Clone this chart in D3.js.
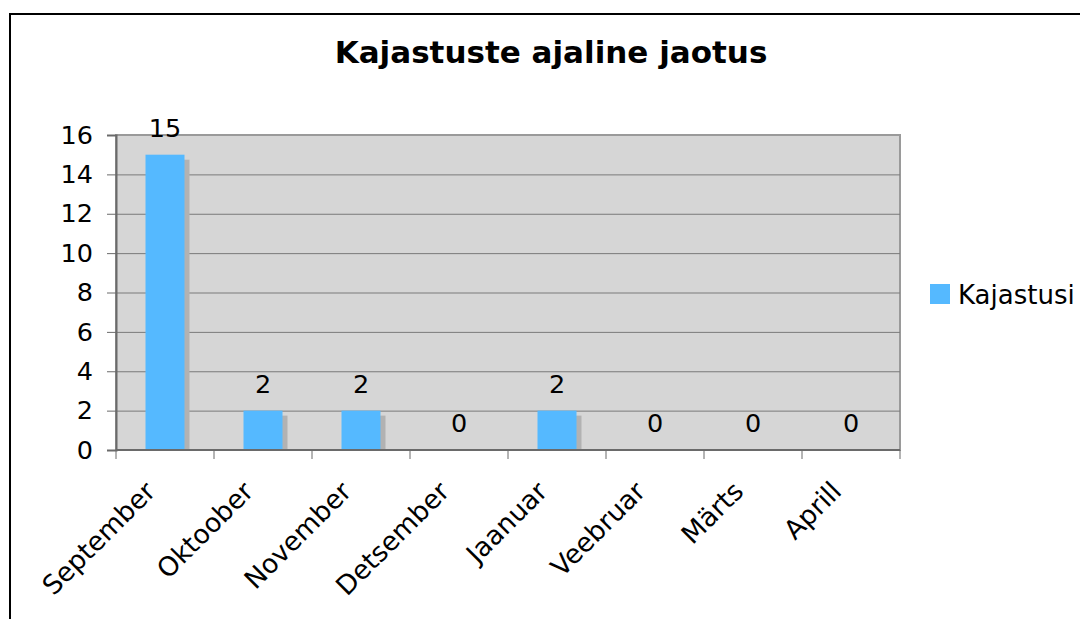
<!DOCTYPE html>
<html><head><meta charset="utf-8">
<script src="https://cdn.jsdelivr.net/npm/d3@7"></script>
<style>html,body{margin:0;padding:0;background:#fff;}svg{display:block;}</style>
</head><body>
<script>
const categories = ["September","Oktoober","November","Detsember","Jaanuar","Veebruar","Märts","Aprill"];
const values = [15, 2, 2, 0, 2, 0, 0, 0];
const yTicks = [0, 2, 4, 6, 8, 10, 12, 14, 16];
const seriesName = "Kajastusi";
const title = "Kajastuste ajaline jaotus";

const W = 1080, H = 619;
const font = "'DejaVu Sans', Verdana, sans-serif";
const plot = {left: 116, top: 135, right: 900, bottom: 450};

const svg = d3.select("body").append("svg").attr("width", W).attr("height", H);

// outer frame
svg.append("rect").attr("x", 10).attr("y", 14).attr("width", 1100).attr("height", 700)
  .attr("fill", "none").attr("stroke", "#000").attr("stroke-width", 2);

const x = d3.scaleBand().domain(categories).range([plot.left, plot.right]).paddingInner(0).paddingOuter(0);
const y = d3.scaleLinear().domain([0, 16]).range([plot.bottom, plot.top]);

// plot background
svg.append("rect").attr("x", plot.left).attr("y", plot.top)
  .attr("width", plot.right - plot.left).attr("height", plot.bottom - plot.top)
  .attr("fill", "#d6d6d6").attr("stroke", "#9a9a9a").attr("stroke-width", 2);

// gridlines
svg.append("g").selectAll("line").data(yTicks.filter(d => d > 0 && d < 16)).join("line")
  .attr("x1", plot.left).attr("x2", plot.right)
  .attr("y1", d => y(d) + 0.5).attr("y2", d => y(d) + 0.5)
  .attr("stroke", "#7a7a7a").attr("stroke-width", 1);

// bar shadows
const bw = 39;
svg.append("g").selectAll("rect").data(values).join("rect")
  .attr("x", (d, i) => x(categories[i]) + x.bandwidth() / 2 - bw / 2 + 5)
  .attr("y", d => Math.min(y(d) + 5, plot.bottom))
  .attr("width", bw)
  .attr("height", d => Math.max(0, plot.bottom - Math.min(y(d) + 5, plot.bottom)))
  .attr("fill", "#b2b2b2");

// bars
svg.append("g").selectAll("rect").data(values).join("rect")
  .attr("x", (d, i) => x(categories[i]) + x.bandwidth() / 2 - bw / 2)
  .attr("y", d => y(d))
  .attr("width", bw)
  .attr("height", d => plot.bottom - y(d))
  .attr("fill", "#55b9ff");

// axes
const yAxis = d3.axisLeft(y).tickValues(yTicks).tickSize(9).tickPadding(14);
const gy = svg.append("g").attr("transform", `translate(${plot.left},0)`).call(yAxis);
gy.select(".domain").attr("stroke", "#6a6a6a").attr("stroke-width", 2);
gy.selectAll(".tick line").attr("stroke", "#6a6a6a");
gy.selectAll(".tick text").attr("font-family", font).attr("font-size", 25.5).attr("fill", "#000");

const xTickPos = d3.range(categories.length + 1).map(i => plot.left + i * x.step());
const gx = svg.append("g");
gx.append("line").attr("x1", plot.left).attr("x2", plot.right)
  .attr("y1", plot.bottom).attr("y2", plot.bottom).attr("stroke", "#6a6a6a").attr("stroke-width", 2);
gx.selectAll("line.t").data(xTickPos).join("line").attr("class", "t")
  .attr("x1", d => d).attr("x2", d => d).attr("y1", plot.bottom).attr("y2", plot.bottom + 9)
  .attr("stroke", "#6a6a6a").attr("stroke-width", 1);

gx.selectAll("text").data(categories).join("text")
  .attr("transform", d => `translate(${x(d) + x.bandwidth() / 2 - 8},${plot.bottom + 43}) rotate(-45)`)
  .attr("text-anchor", "end")
  .attr("font-family", font).attr("font-size", 26.5).attr("fill", "#000")
  .text(d => d);

// value labels
svg.append("g").selectAll("text").data(values).join("text")
  .attr("x", (d, i) => x(categories[i]) + x.bandwidth() / 2)
  .attr("y", d => y(d) - 18)
  .attr("text-anchor", "middle")
  .attr("font-family", font).attr("font-size", 25.5).attr("fill", "#000")
  .text(d => d);

// title
svg.append("text").attr("x", 551).attr("y", 63).attr("text-anchor", "middle")
  .attr("font-family", font).attr("font-weight", "bold").attr("font-size", 31)
  .attr("fill", "#000").text(title);

// legend
const lg = svg.append("g").attr("transform", "translate(930,284)");
lg.append("rect").attr("width", 20).attr("height", 20).attr("fill", "#55b9ff");
lg.append("text").attr("x", 28).attr("y", 20).attr("font-family", font).attr("font-size", 26)
  .attr("fill", "#000").text(seriesName);
</script>
</body></html>
